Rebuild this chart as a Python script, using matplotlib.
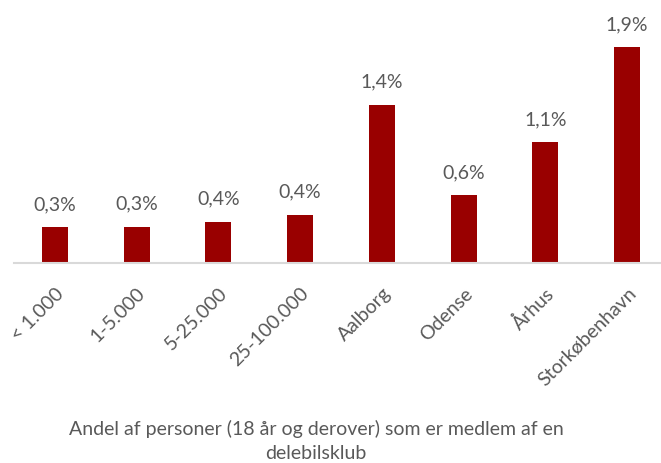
import matplotlib
matplotlib.use("Agg")
import matplotlib.pyplot as plt

categories = ["< 1.000", "1-5.000", "5-25.000", "25-100.000", "Aalborg", "Odense", "Århus", "Storkøbenhavn"]
values = [0.315, 0.32, 0.364, 0.426, 1.395, 0.596, 1.066, 1.90]
value_labels = ["0,3%", "0,3%", "0,4%", "0,4%", "1,4%", "0,6%", "1,1%", "1,9%"]
xlabel_text = "Andel af personer (18 år og derover) som er medlem af en\ndelebilsklub"

W, H = 661, 464
DPI = 100
plt.rcParams['font.family'] = ['Lato', 'DejaVu Sans']
text_color = "#595959"
bar_color = "#990000"

fig = plt.figure(figsize=(W / DPI, H / DPI), dpi=DPI)
left_px, right_px = 14, 668
base_px = 264
ymax = 2.0
px_per_unit = 113.5
top_px = base_px - ymax * px_per_unit
ax = fig.add_axes([left_px / W, (H - base_px) / H, (right_px - left_px) / W, (base_px - top_px) / H])

x = range(len(categories))
bars = ax.bar(x, values, width=0.32, color=bar_color)
ax.set_xlim(-0.5, len(categories) - 0.5)
ax.set_ylim(0, ymax)

for xi, v, lab in zip(x, values, value_labels):
    ax.annotate(lab, (xi, v), xytext=(0, 15), textcoords="offset pixels",
                ha="center", va="bottom", fontsize=14, color=text_color)

ax.set_xticks(list(x))
ax.set_xticklabels(categories, rotation=45, ha="right", rotation_mode="anchor",
                   fontsize=14, color=text_color)
ax.tick_params(axis="x", length=0, pad=15)
ax.set_yticks([])
for s in ["top", "right", "left"]:
    ax.spines[s].set_visible(False)
ax.spines["bottom"].set_color("#d9d9d9")
ax.spines["bottom"].set_linewidth(1.5)

fig.text(316 / W, 1 - 441 / H, xlabel_text, ha="center", va="center",
         fontsize=14, color=text_color, linespacing=1.45)

fig.savefig("out.png", dpi=DPI)
